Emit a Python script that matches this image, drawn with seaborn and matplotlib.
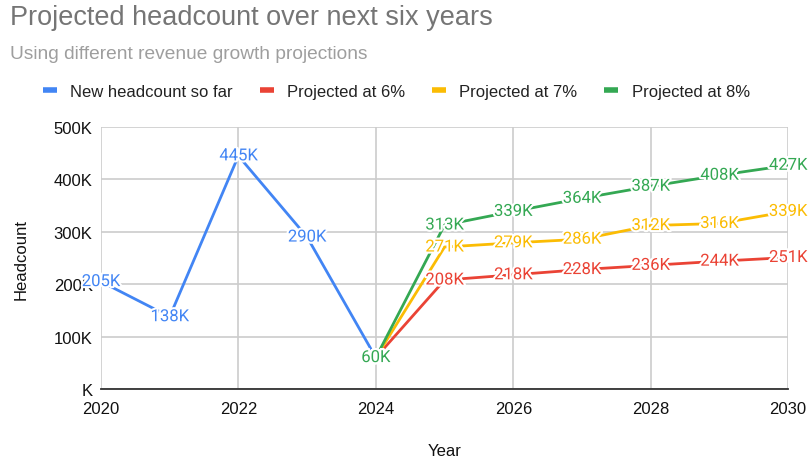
import pandas as pd
import seaborn as sns
import matplotlib.pyplot as plt
import matplotlib.patheffects as pe
from matplotlib.lines import Line2D

# data
years_actual = [2020, 2021, 2022, 2023, 2024]
headcount_actual = [205, 138, 445, 290, 60]

years_proj = [2024, 2025, 2026, 2027, 2028, 2029, 2030]
proj_6 = [60, 208, 218, 228, 236, 244, 251]
proj_7 = [60, 271, 279, 286, 312, 316, 339]
proj_8 = [60, 313, 339, 364, 387, 408, 427]

series_names = ['New headcount so far', 'Projected at 6%', 'Projected at 7%', 'Projected at 8%']
colors = ['#4285F4', '#EA4335', '#FBBC04', '#34A853']

rows = []
for y, v in zip(years_actual, headcount_actual):
    rows.append((series_names[0], y, v * 1000))
for name, vals in zip(series_names[1:], [proj_6, proj_7, proj_8]):
    for y, v in zip(years_proj, vals):
        rows.append((name, y, v * 1000))
data = pd.DataFrame(rows, columns=['Series', 'Year', 'Headcount'])

sns.set_style('white')
plt.rcParams['font.family'] = ['Liberation Sans', 'DejaVu Sans']

fig = plt.figure(figsize=(8.09, 4.64), dpi=100)
ax = fig.add_axes([0.1248, 0.1595, 0.8494, 0.5645])

palette = dict(zip(series_names, colors))
sns.lineplot(data=data, x='Year', y='Headcount', hue='Series', palette=palette,
             linewidth=2.0, legend=False, ax=ax, zorder=3)

# data labels on top of the points
for name in series_names:
    sub = data[data['Series'] == name]
    for _, r in sub.iterrows():
        ax.text(r['Year'], r['Headcount'], f"{int(r['Headcount'] / 1000)}K",
                ha='center', va='center', fontsize=12, color=palette[name],
                family=['Roboto', 'DejaVu Sans'], zorder=5,
                path_effects=[pe.withStroke(linewidth=3, foreground='white')])

ax.set_xlim(2020, 2030)
ax.set_ylim(0, 500000)
ax.set_xticks(range(2020, 2031, 2))
ax.set_yticks(range(0, 500001, 100000))
ax.set_yticklabels(['K' if v == 0 else f'{v // 1000}K' for v in range(0, 500001, 100000)])
ax.grid(True, color='#cccccc', linewidth=1.2)
ax.set_axisbelow(True)
for s in ['top', 'right', 'left']:
    ax.spines[s].set_visible(False)
ax.spines['bottom'].set_color('#333333')
ax.spines['bottom'].set_linewidth(1.3)
ax.spines['bottom'].set_zorder(4)
ax.tick_params(axis='both', length=0, labelsize=12, colors='#111111', pad=6)
ax.tick_params(axis='x', pad=9)

ax.set_xlabel('Year', fontsize=12, color='#111111', labelpad=19)
ax.set_ylabel('Headcount', fontsize=12, color='#111111', labelpad=18)

fig.text(0.012, 0.962, 'Projected headcount over next six years', fontsize=19.5,
         color='#757575', va='center')
fig.text(0.012, 0.883, 'Using different revenue growth projections', fontsize=13.8,
         color='#9e9e9e', va='center')

handles = [Line2D([0], [0], color=c, linewidth=4, solid_capstyle='butt') for c in colors]
fig.legend(handles, series_names, loc='center', bbox_to_anchor=(0.49, 0.80), ncol=4,
           frameon=False, fontsize=12, handlelength=0.85, columnspacing=1.6,
           handletextpad=0.8, labelcolor='#222222')

fig.savefig('out.png', dpi=100)
